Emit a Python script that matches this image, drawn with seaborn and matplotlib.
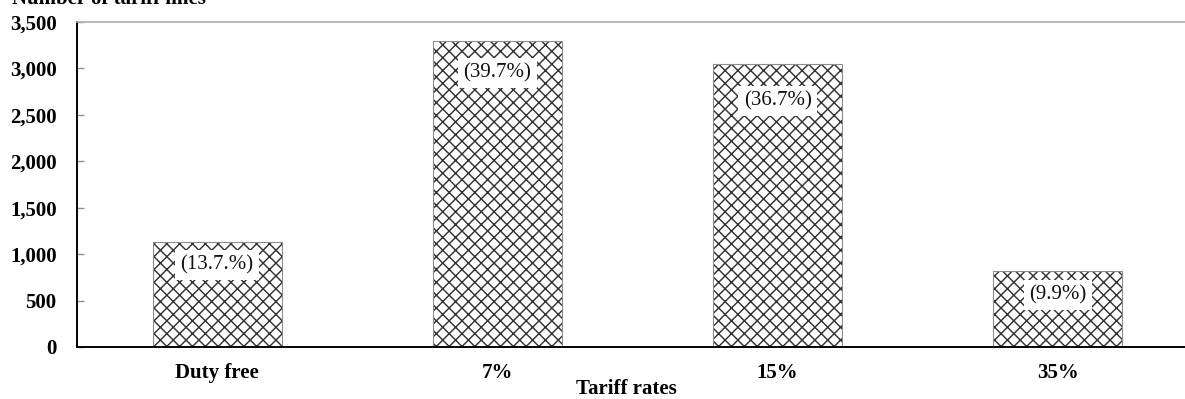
import matplotlib
matplotlib.use("Agg")
import matplotlib.pyplot as plt
import matplotlib.ticker as mticker
import seaborn as sns
import pandas as pd

# Tariff lines by rate band
categories = ["Duty free", "7%", "15%", "35%"]
tariff_lines = [1135, 3300, 3050, 815]
share_labels = ["(13.7.%)", "(39.7%)", "(36.7%)", "(9.9%)"]
y_ticks = [0, 500, 1000, 1500, 2000, 2500, 3000, 3500]

# offset (points) of each share label below its bar top
label_offsets = [-22, -30, -35, -22]

DPI = 77
sns.set_theme(style="white")
plt.rcParams["font.family"] = ["Liberation Serif", "DejaVu Serif"]
plt.rcParams["hatch.linewidth"] = 1.35

df = pd.DataFrame({"rate": categories, "lines": tariff_lines})

fig = plt.figure(figsize=(1185 / DPI, 399 / DPI), dpi=DPI)
ax = fig.add_axes([77 / 1185, 52 / 399, 1121 / 1185, 325 / 399])

# hatched fill
sns.barplot(data=df, x="rate", y="lines", order=categories, ax=ax,
            color="white", edgecolor="#333333", linewidth=0, hatch="xx",
            width=0.46, errorbar=None, saturation=1)
# light outline
sns.barplot(data=df, x="rate", y="lines", order=categories, ax=ax,
            fill=False, edgecolor="#8c8c8c", linewidth=1.0,
            width=0.46, errorbar=None)

for i, (val, txt, off) in enumerate(zip(tariff_lines, share_labels, label_offsets)):
    ax.annotate(txt, xy=(i, val), xytext=(0, off), textcoords="offset points",
                ha="center", va="center", fontsize=19.5, color="#111111",
                bbox=dict(facecolor="white", edgecolor="none", pad=5))

ax.set_xlim(-0.5, 3.5)
ax.set_ylim(0, 3500)
ax.set_yticks(y_ticks)
ax.yaxis.set_major_formatter(mticker.FuncFormatter(lambda v, p: f"{int(v):,}"))

for lab in ax.get_yticklabels() + ax.get_xticklabels():
    lab.set_fontweight("bold")
    lab.set_fontsize(19.5)
    lab.set_color("black")

ax.tick_params(axis="y", direction="in", length=6.5, width=1.3, color="#909090",
               pad=19, left=True)
ax.tick_params(axis="x", length=0, pad=15)

ax.set_ylabel("")
ax.set_xlabel("Tariff rates", fontsize=19.5, fontweight="bold", color="black")
ax.xaxis.set_label_coords((626 - 77) / 1121, -0.13)
ax.xaxis.label.set_va("center")

for side in ["left", "bottom"]:
    ax.spines[side].set_color("black")
    ax.spines[side].set_linewidth(1.8)
ax.spines["top"].set_color("#b0b0b0")
ax.spines["top"].set_linewidth(1.6)
ax.spines["right"].set_visible(False)

fig.text(12 / 1185, 1 - 4 / 399, "Number of tariff lines", fontsize=19.5,
         fontweight="bold", ha="left", va="baseline", color="black")

fig.savefig("out.png", dpi=DPI)
